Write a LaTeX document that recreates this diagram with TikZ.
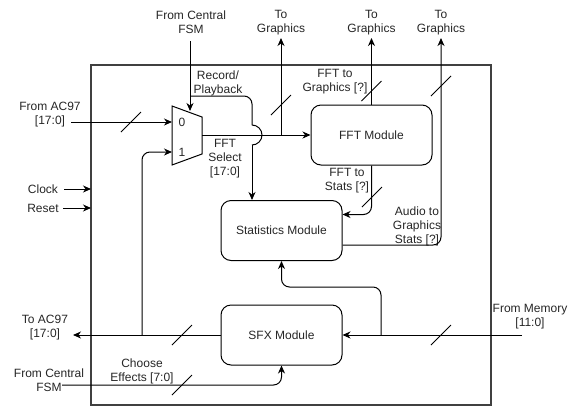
\documentclass[tikz,border=0pt]{standalone}
\usepackage{fontspec}
\setmainfont{Liberation Sans}
\usetikzlibrary{arrows.meta}
\begin{document}
\begin{tikzpicture}[x=1pt,y=-1pt,
  font=\fontsize{12}{14}\selectfont,
  every node/.style={text=black!85},
  wire/.style={line width=1pt, draw=black},
  arr/.style={wire, -{Stealth[length=8pt,width=7pt,inset=2.5pt]}},
  module/.style={draw=black, line width=1pt, rounded corners=10pt, minimum width=121pt, minimum height=60pt, inner sep=0pt},
  lbl/.style={align=center, inner sep=0pt},
  tick/.style={line width=1pt}]
\useasboundingbox (0,0) rectangle (573,408);

% outer box
\draw[line width=2pt, draw=black!75] (91,65) rectangle (491,405);

% modules
\node[module] (fft) at (371.5,135) {FFT Module};
\node[module] (stats) at (281.5,230.5) {Statistics Module};
\node[module] (sfx) at (281.5,335) {SFX Module};

% mux
\draw[wire] (172,106) -- (202,117) -- (202,154) -- (172,165) -- cycle;
\coordinate (mux0in) at (172,122);
\coordinate (mux1in) at (172,152);
\coordinate (muxtop) at (190,111);
\coordinate (muxout) at (202,135);
\node (m0) at (182,122) {0};
\node (m1) at (182,152) {1};

% free end coordinates
\coordinate (fromac) at (71,122);
\coordinate (fsmtop) at (190,41);
\coordinate (tg1) at (281,38);
\coordinate (tg2) at (371.5,38);
\coordinate (tg3) at (441,38);
\coordinate (toac) at (73,335);
\coordinate (frommem) at (522,335);
\coordinate (fsmbot) at (62,385);
\coordinate (clk) at (64,189);
\coordinate (clkend) at (91,189);
\coordinate (rst) at (63,208);
\coordinate (rstend) at (91,208);
\coordinate (rp) at (190,96);
\coordinate (hop1) at (252,125);
\coordinate (hop2) at (252,145);
\coordinate (br1) at (281,135);
\coordinate (br2) at (142,335);
\coordinate (br3) at (381,335);

% labels
\node[lbl] (lfsm) at (191,22.5) {From Central\\FSM};
\node[lbl] (ltg1) at (281,22.5) {To\\Graphics};
\node[lbl] (ltg2) at (371.5,22.5) {To\\Graphics};
\node[lbl] (ltg3) at (441,22.5) {To\\Graphics};
\node[lbl] (lrp) at (218,83) {Record/\\Playback};
\node[lbl] (lac) at (50,115) {From AC97\\{}[17:0]};
\node[lbl] (lsel) at (225,158.5) {FFT\\Select\\{}[17:0]};
\node[lbl] (lclk) at (43,189) {Clock};
\node[lbl] (lrst) at (43,208) {Reset};
\node[lbl] (lftg) at (335,82) {FFT to\\Graphics [?]};
\node[lbl] (lfts) at (347,181) {FFT to\\Stats [?]};
\node[lbl] (latg) at (417,226) {Audio to\\Graphics\\Stats [?]};
\node[lbl] (ltoac) at (45,328) {To AC97\\{}[17:0]};
\node[lbl] (lmem) at (530,317) {From Memory\\{}[11:0]};
\node[lbl] (lch) at (142,371.5) {Choose\\Effects [7:0]};
\node[lbl] (lfsm2) at (49,380) {From Central\\FSM};

% connectors
\draw[arr] (fromac) -- (mux0in);
\draw[tick] (131,122) ++(-10,10) -- ++(20,-20);
\draw[arr] (fsmtop) -- (muxtop);
\draw[wire, rounded corners=8pt] (rp) -| (hop1);
\draw[wire] (hop1) arc[start angle=-90, end angle=90, radius=10];
\draw[arr] (hop2) -- (hop2 |- stats.north);
\draw[arr] (muxout) -- (fft.west);
\draw[arr] (br1) -- (tg1);
\draw[tick] (281,105) ++(-10,10) -- ++(20,-20);
\draw[arr] (fft.north) -- (tg2);
\draw[tick] (371.5,91) ++(-10,10) -- ++(20,-20);
\draw[arr, rounded corners=8pt] ([yshift=-14.5pt]stats.east) -| (tg3);
\draw[tick] (441,86) ++(-10,10) -- ++(20,-20);
\draw[arr, rounded corners=8pt] (fft.south) |- ([yshift=16pt]stats.east);
\draw[tick] (372,197) ++(-10,10) -- ++(20,-20);
\draw[arr] (sfx.west) -- (toac);
\draw[tick] (182,335) ++(-10,10) -- ++(20,-20);
\draw[arr, rounded corners=8pt] (br2) |- (mux1in);
\draw[arr] (frommem) -- (sfx.east);
\draw[tick] (441,335) ++(-10,10) -- ++(20,-20);
\draw[arr, rounded corners=8pt] (br3) |- (stats.south |- 0,287) -- (stats.south);
\draw[arr, rounded corners=8pt] (fsmbot) -| (sfx.south);
\draw[tick] (182,385) ++(-10,10) -- ++(20,-20);
\draw[arr] (clk) -- (clkend);
\draw[arr] (rst) -- (rstend);
\end{tikzpicture}
\end{document}
